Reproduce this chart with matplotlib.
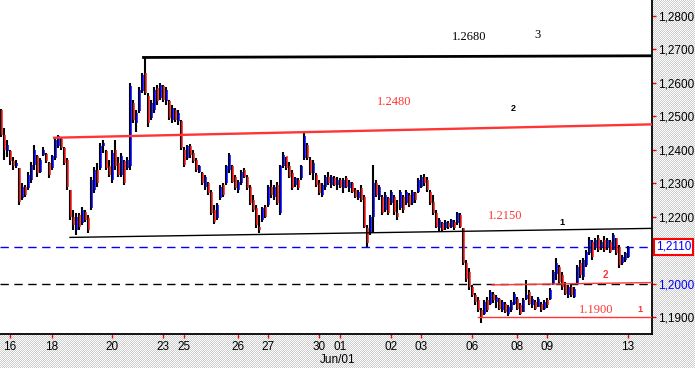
import numpy as np
import matplotlib
matplotlib.use("Agg")
import matplotlib.pyplot as plt

# ---------------- data (prices in pips, /10000) ----------------
highs = [12522,12465,12429,12399,12378,12369,12345,12301,12295,12334,
         12363,12414,12384,12375,12408,12390,12363,12384,12438,12444,
         12435,12408,12375,12280,12220,12211,12211,12229,12220,12205,
         12319,12349,12360,12420,12429,12399,12369,12399,12429,12378,
         12390,12369,12378,12600,12549,12519,12588,12630,12674,12570,
         12549,12588,12594,12600,12594,12588,12549,12534,12525,12519,
         12489,12408,12414,12417,12399,12375,12354,12334,12325,12304,
         12280,12235,12241,12295,12301,12354,12390,12354,12325,12310,
         12340,12345,12325,12295,12265,12235,12205,12229,12235,12295,
         12310,12295,12304,12354,12393,12378,12363,12340,12319,12316,
         12354,12450,12420,12378,12369,12331,12310,12301,12325,12334,
         12325,12322,12319,12316,12316,12322,12310,12304,12286,12280,
         12295,12265,12175,12205,12354,12310,12295,12265,12274,12259,
         12280,12265,12250,12280,12265,12280,12271,12280,12274,12316,
         12325,12328,12319,12280,12265,12220,12196,12184,12190,12187,
         12193,12190,12214,12211,12166,12070,12046,11996,11972,11960,
         11927,11951,11960,11981,11975,11966,11957,11951,11945,11936,
         11951,11975,11960,11942,11957,12011,11981,11963,11951,11960,
         11945,11951,11957,11987,12041,12076,12055,12034,12005,11996,
         11996,11990,12055,12070,12076,12100,12139,12130,12136,12145,
         12130,12142,12136,12130,12151,12136,12115,12085,12094,12112]
lows = [12438,12369,12378,12354,12340,12345,12235,12250,12259,12280,
        12301,12340,12319,12331,12381,12360,12316,12340,12369,12405,
        12399,12354,12280,12190,12160,12145,12160,12175,12184,12151,
        12220,12271,12289,12340,12390,12340,12319,12301,12340,12319,
        12319,12295,12340,12340,12480,12453,12510,12570,12564,12468,
        12489,12510,12534,12549,12543,12534,12489,12480,12483,12474,
        12399,12348,12369,12375,12360,12334,12331,12295,12280,12265,
        12205,12178,12190,12250,12259,12295,12331,12301,12280,12271,
        12295,12316,12280,12235,12214,12166,12151,12184,12196,12229,
        12256,12250,12235,12205,12345,12340,12316,12280,12289,12280,
        12310,12369,12369,12325,12310,12289,12265,12259,12280,12295,
        12286,12292,12280,12286,12271,12286,12274,12271,12256,12250,
        12244,12166,12109,12145,12151,12259,12250,12205,12214,12205,
        12235,12205,12190,12220,12211,12235,12229,12235,12241,12271,
        12286,12292,12274,12235,12205,12166,12154,12154,12160,12163,
        12166,12160,12175,12166,12055,12005,11981,11960,11936,11915,
        11882,11906,11915,11936,11942,11927,11921,11915,11912,11903,
        11915,11936,11921,11906,11915,11951,11936,11927,11921,11930,
        11915,11921,11927,11951,11996,12011,11996,11981,11966,11957,
        11960,11957,11996,12017,12011,12049,12085,12070,12100,12094,
        12100,12094,12100,12091,12100,12085,12046,12055,12064,12076]
opens = [12518,12445,12395,12395,12365,12350,12345,12255,12290,12285,
         12310,12355,12380,12335,12385,12388,12360,12345,12375,12410,
         12432,12405,12370,12280,12200,12160,12205,12180,12215,12195,
         12225,12280,12340,12345,12410,12395,12350,12310,12400,12360,
         12325,12365,12345,12350,12540,12480,12515,12575,12630,12560,
         12495,12520,12585,12555,12590,12545,12545,12490,12520,12485,
         12485,12400,12375,12410,12390,12370,12335,12330,12290,12300,
         12275,12220,12195,12255,12295,12300,12340,12350,12320,12280,
         12300,12340,12320,12290,12250,12225,12170,12190,12230,12235,
         12290,12260,12295,12210,12350,12380,12350,12330,12295,12310,
         12315,12375,12415,12370,12330,12325,12300,12265,12290,12320,
         12295,12315,12295,12310,12285,12315,12285,12300,12280,12255,
         12285,12260,12165,12150,12200,12300,12260,12260,12220,12255,
         12240,12260,12210,12225,12260,12240,12265,12240,12270,12275,
         12290,12320,12310,12275,12245,12210,12165,12180,12165,12180,
         12170,12185,12180,12205,12166,12060,12035,11990,11965,11950,
         11920,11910,11950,11940,11970,11945,11955,11920,11940,11910,
         11920,11940,11955,11935,11915,11955,11975,11935,11945,11930,
         11940,11925,11950,11955,12000,12030,12050,12025,11995,11965,
         11990,11960,12000,12060,12020,12055,12090,12125,12105,12135,
         12105,12130,12105,12125,12100,12135,12110,12060,12070,12080]
closes = [12445,12400,12415,12365,12350,12360,12245,12290,12265,12325,
          12355,12400,12330,12370,12400,12365,12325,12380,12430,12440,
          12405,12360,12290,12200,12175,12200,12170,12220,12190,12160,
          12310,12340,12300,12410,12420,12345,12325,12390,12350,12325,
          12380,12300,12370,12590,12490,12510,12580,12625,12570,12480,
          12540,12580,12545,12595,12550,12580,12495,12525,12490,12510,
          12405,12355,12410,12385,12365,12340,12350,12300,12320,12270,
          12210,12185,12235,12290,12265,12350,12385,12305,12285,12305,
          12335,12320,12285,12240,12220,12175,12160,12225,12200,12290,
          12265,12290,12240,12350,12385,12345,12320,12285,12315,12285,
          12350,12440,12375,12330,12360,12295,12270,12295,12320,12300,
          12320,12295,12310,12290,12310,12290,12305,12275,12260,12275,
          12250,12170,12120,12200,12300,12265,12290,12210,12265,12210,
          12275,12215,12200,12275,12220,12275,12235,12275,12250,12310,
          12320,12300,12280,12240,12210,12170,12190,12160,12185,12170,
          12190,12165,12210,12170,12060,12015,11990,11965,11945,11920,
          11900,11945,11920,11975,11950,11960,11925,11945,11915,11930,
          11945,11970,11925,11910,11950,11965,11940,11955,11925,11955,
          11920,11945,11935,11980,12035,12060,12005,11990,11970,11990,
          11965,11985,12050,12025,12070,12095,12130,12080,12130,12100,
          12125,12100,12130,12095,12145,12090,12055,12080,12090,12110]

date_tick_bars = [3, 17, 37, 54, 61, 79, 89, 106, 113, 130, 140, 157, 172, 182, 209]
date_labels = ['16', '18', '20', '23', '25', '26', '27', '30', '01', '02', '03',
               '06', '08', '09', '13']
month_label = 'Jun/01'

price_ticks = [1.19, 1.20, 1.21, 1.22, 1.23, 1.24, 1.25, 1.26, 1.27, 1.28]

# trend / level lines: (start bar, end bar, start price, end price)
top_black = (47.5, 217, 1.2676, 1.2681)
upper_red = (17.7, 217, 1.2436, 1.2476)
lower_black = (23, 217, 1.2138, 1.2165)
red_2_line = (163.7, 217, 1.1996, 1.2003)
red_1_line = (159, 217, 1.1900, 1.1900)
blue_dash_level = 1.2110
black_dash_level = 1.2000
last_price = 1.2110

# ---------------- figure ----------------
W, H = 695, 368
fig = plt.figure(figsize=(W / 100, H / 100), dpi=100)
yy, xx = np.mgrid[0:H, 0:W]
checker = np.where((xx + yy) % 2 == 0, 1.0, 0.80)
bg = np.dstack([checker] * 3)
fig.figimage(bg, 0, 0, zorder=-5)
fig.patch.set_alpha(0)

ax = fig.add_axes([0, 34 / H, 652 / W, 334 / H])
ax.set_facecolor('white')
ax.set_xlim(-1 / 3, 217)
ax.set_ylim(1.18492, 1.28478)

hi = np.array(highs) / 1e4
lo = np.array(lows) / 1e4
op = np.array(opens) / 1e4
cl = np.array(closes) / 1e4
idx = np.arange(len(hi))

ax.vlines(idx, lo, hi, color='black', lw=1.5, zorder=3)
up = cl >= op
ax.vlines(idx[up] + 0.45, op[up], cl[up], color='#0000ff', lw=1.1, zorder=4)
ax.vlines(idx[~up] + 0.45, cl[~up], op[~up], color='#ff1a1a', lw=1.1, zorder=4)

red = '#ff3535'
ax.plot(top_black[:2], top_black[2:], color='black', lw=2.0, zorder=5)
ax.plot(upper_red[:2], upper_red[2:], color=red, lw=1.7, zorder=5)
ax.plot(lower_black[:2], lower_black[2:], color='black', lw=1.0, zorder=5)
ax.plot(red_2_line[:2], red_2_line[2:], color=red, lw=1.0, zorder=5)
ax.plot(red_1_line[:2], red_1_line[2:], color=red, lw=1.0, zorder=5)
ax.axhline(blue_dash_level, color='#0000ff', lw=1.0, dashes=(6, 4), zorder=2)
ax.axhline(black_dash_level, color='black', lw=1.0, dashes=(6, 4), zorder=2)

# annotations
sfont = dict(family='Liberation Serif', fontsize=9)
ax.text(150.3, 1.2737, '1.2680', color='black', ha='left', va='center', **sfont)
ax.text(177.7, 1.2743, '3', color='black', ha='left', va='center', **sfont)
ax.text(125.3, 1.2543, '1.2480', color=red, ha='left', va='center', **sfont)
ax.text(170.0, 1.2522, '2', color='black', ha='left', va='center',
        family='Liberation Sans', fontsize=6.5, fontweight='bold')
ax.text(162.3, 1.2202, '1.2150', color=red, ha='left', va='center', **sfont)
ax.text(186.0, 1.2184, '1', color='black', ha='left', va='center',
        family='Liberation Sans', fontsize=6.5, fontweight='bold')
ax.text(200.7, 1.2026, '2', color=red, ha='left', va='center',
        family='Liberation Sans', fontsize=7, fontweight='bold')
ax.text(192.7, 1.1921, '1.1900', color=red, ha='left', va='center', **sfont)
ax.text(212.0, 1.1921, '1', color=red, ha='left', va='center',
        family='Liberation Sans', fontsize=6.5, fontweight='bold')

# spines
for s in ['left', 'top']:
    ax.spines[s].set_visible(False)
for s in ['right', 'bottom']:
    ax.spines[s].set_color('black')
    ax.spines[s].set_linewidth(1.3)

# axes ticks (the 1,2100 label is covered by the last-price box)
ax.yaxis.tick_right()
ax.set_yticks(price_ticks)
ylabels = ['' if abs(p - last_price) < 0.002 else f"{p:.4f}".replace('.', ',')
           for p in price_ticks]
ax.set_yticklabels(ylabels, family='Liberation Sans', fontsize=8.5)
for lab, p in zip(ax.get_yticklabels(), price_ticks):
    if abs(p - 1.20) < 1e-9:
        lab.set_color('#0000ff')
ax.tick_params(axis='y', direction='out', length=3, width=1, color='red', pad=1.5)

ax.set_xticks(date_tick_bars)
ax.set_xticklabels(date_labels, family='Liberation Sans', fontsize=8.5)
ax.tick_params(axis='x', direction='out', length=3, width=1, color='red', pad=2)

fig.text(338 / W, 1 - 360 / H, month_label, ha='center', va='center',
         family='Liberation Sans', fontsize=8.5)

# last-price box
ax.text(1.006, last_price, f"{last_price:.4f}".replace('.', ','),
        transform=ax.get_yaxis_transform(), ha='left', va='center',
        color='#0000ff', family='Liberation Sans', fontsize=8.5, zorder=10,
        clip_on=False,
        bbox=dict(boxstyle='square,pad=0.15', facecolor='white', edgecolor='red', lw=1.5))

fig.savefig('out.png', dpi=100)
